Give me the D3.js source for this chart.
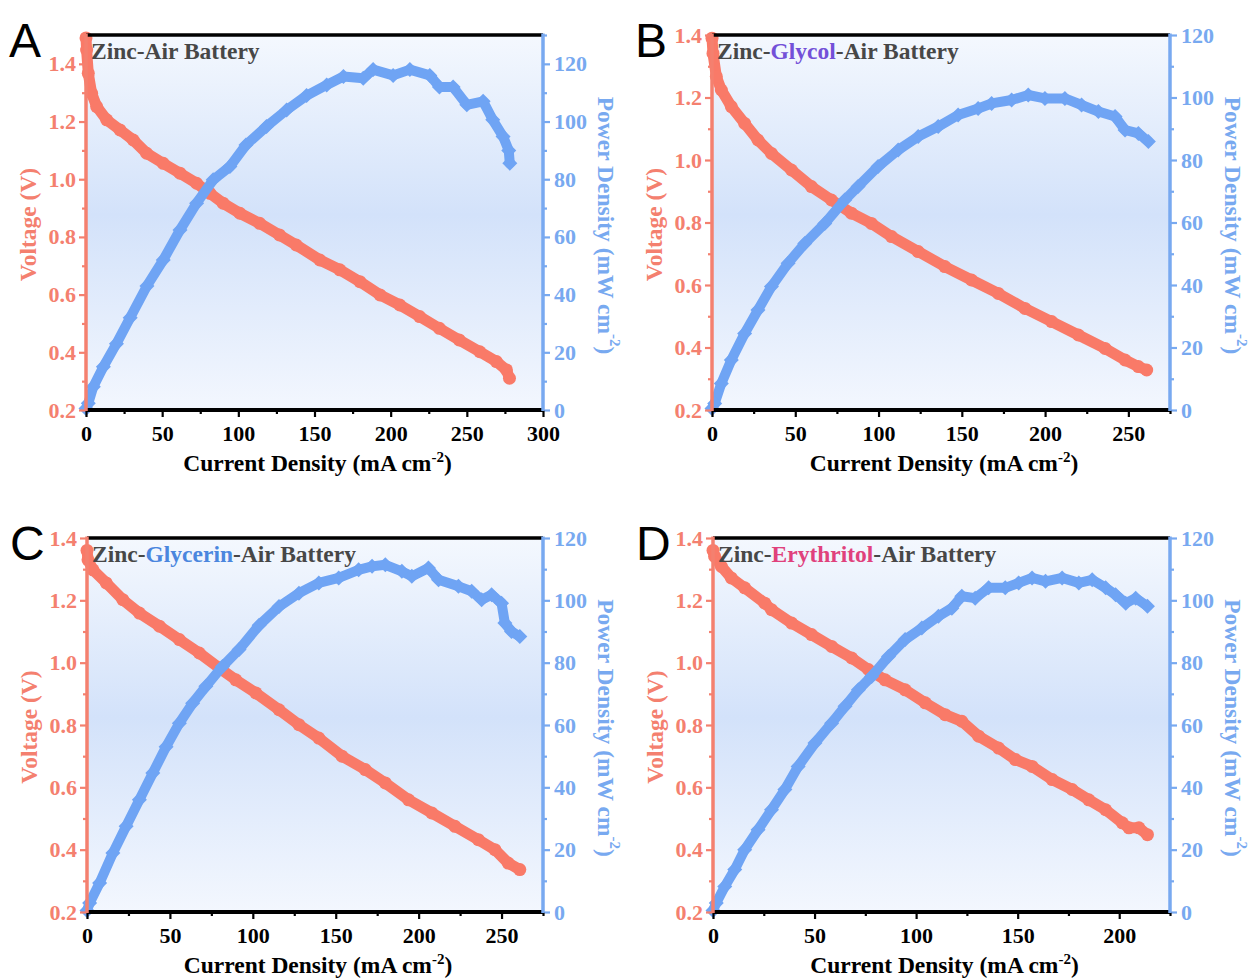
<!DOCTYPE html>
<html>
<head>
<meta charset="utf-8">
<script src="https://cdn.jsdelivr.net/npm/d3@7"></script>
<style>
  body { margin: 0; background: #fff; }
</style>
</head>
<body>
<svg width="1250" height="978"></svg>
<script>
// ---- data ----
// A: Zinc-Air
var aVoltI = [0, 0.4, 1.5, 3.7, 7, 13.6, 22.3, 31, 39.8, 50.7, 61.7, 72.6, 81.4, 90, 101, 114, 127, 138, 153.5, 166.6, 179.8, 193, 206, 219, 232, 245, 258.5, 269.4, 276, 278];
var aVolt  = [1.49, 1.448, 1.367, 1.298, 1.252, 1.206, 1.171, 1.136, 1.09, 1.055, 1.021, 0.986, 0.951, 0.917, 0.882, 0.847, 0.807, 0.772, 0.72, 0.686, 0.645, 0.599, 0.564, 0.524, 0.483, 0.443, 0.402, 0.368, 0.339, 0.31];
var aPowI  = [0, 1.5, 4.8, 11.4, 20, 29, 40, 50.7, 61.7, 72.6, 83.5, 94.5, 105, 118.5, 131.7, 144.8, 158, 169, 182, 188.5, 201.6, 212.6, 225.7, 232, 241, 250, 260.7, 267, 273.8, 277.5, 278.2];
var aPow   = [0.5, 2.3, 8.1, 15, 23, 32, 43, 52, 62.4, 71.7, 79.8, 84.4, 91.9, 98.3, 104, 109, 112.7, 115.6, 115, 118, 116, 118, 116, 112, 112, 105.8, 107, 100.6, 94.8, 90, 85.5];

// B: Zinc-Glycol
var bVoltI = [0, 0.6, 2.6, 5.6, 11.6, 19.6, 27.6, 35.7, 47.7, 59.7, 71.7, 83.7, 95.7, 107.8, 123.8, 139.8, 155.8, 171.9, 187.9, 203.9, 220, 236, 248, 256, 261];
var bVolt  = [1.39, 1.341, 1.267, 1.224, 1.171, 1.117, 1.064, 1.021, 0.968, 0.915, 0.872, 0.83, 0.797, 0.755, 0.707, 0.659, 0.616, 0.573, 0.525, 0.483, 0.44, 0.397, 0.36, 0.339, 0.328];
var bPowI  = [0, 1.6, 5.6, 11.6, 19.6, 27.6, 35.7, 45.7, 55.7, 67.7, 79.7, 87.7, 99.7, 111.8, 123.8, 135.8, 147.8, 159.8, 167.9, 179.9, 189.9, 199.9, 211.9, 221.9, 232, 242, 248, 256, 262];
var bPow   = [0.5, 2.1, 8.5, 16, 24.5, 32, 39.5, 47, 53.3, 59.7, 67.2, 71.5, 77.9, 83.2, 87.5, 90.7, 94.4, 96.5, 98.1, 99.2, 100.8, 99.7, 99.7, 97.6, 95.5, 93.9, 89.6, 88.5, 85.9];

// C: Zinc-Glycerin
var cVoltI = [0, 0.6, 3.6, 11.6, 21.6, 31.6, 43.7, 55.7, 67.7, 79.7, 89.7, 101.8, 115.8, 127.8, 139.8, 153.8, 167.8, 179.9, 193.9, 207.9, 221.9, 236, 246, 254, 261];
var cVolt  = [1.36, 1.33, 1.298, 1.256, 1.202, 1.159, 1.117, 1.074, 1.031, 0.983, 0.945, 0.903, 0.849, 0.801, 0.758, 0.70, 0.657, 0.614, 0.56, 0.518, 0.475, 0.432, 0.40, 0.357, 0.336];
var cPowI  = [0, 1.6, 7.6, 15.6, 23.6, 31.6, 39.7, 47.7, 55.7, 63.7, 71.7, 81.7, 91.7, 103.8, 115.8, 127.8, 139.8, 151.8, 163.8, 171.9, 179.9, 189.9, 195.9, 205.9, 212, 224, 232, 238, 244, 250, 252, 256, 261];
var cPow   = [0.5, 2.9, 9.3, 18.9, 27.5, 36, 44.6, 53, 60.6, 67, 72.4, 78.8, 84.2, 92, 98, 102.3, 105.6, 107.2, 109.8, 110.9, 111.4, 109.3, 107.7, 110.4, 106.6, 104.5, 102.9, 100.2, 101.8, 99.1, 92.7, 90, 88.4];

// D: Zinc-Erythritol
var dVoltI = [0, 0.8, 4.1, 9, 15.6, 25.5, 28.8, 38.7, 48.5, 58.4, 68.3, 76.5, 84.7, 94.6, 104.5, 114.3, 122.5, 130.8, 140.6, 148.9, 157.1, 167, 176.8, 185, 193.3, 201.5, 204.8, 209.7, 213.9];
var dVolt  = [1.36, 1.341, 1.309, 1.272, 1.24, 1.191, 1.17, 1.127, 1.09, 1.052, 1.015, 0.978, 0.945, 0.913, 0.871, 0.833, 0.812, 0.764, 0.726, 0.689, 0.667, 0.625, 0.593, 0.56, 0.528, 0.486, 0.47, 0.47, 0.448];
var dPowI  = [0, 1.6, 5.8, 10.7, 15.6, 22.2, 28.8, 35.4, 41.9, 50.2, 58.4, 65, 71.6, 78.1, 86.4, 94.6, 102.8, 111, 117.6, 122.5, 129.1, 135.7, 143.9, 150.5, 157.1, 163.7, 171.9, 180.1, 186.7, 193.3, 198.2, 203.2, 208.1, 213.9];
var dPow   = [0.5, 2.9, 8.2, 13.6, 20, 26.4, 32.8, 39.3, 46.7, 54.2, 60.6, 66, 71.3, 75.6, 82, 87.4, 91.1, 94.9, 97.5, 101.3, 100.7, 104, 104, 105.6, 107.2, 106.1, 107.2, 105.6, 106.6, 104, 101.8, 99.1, 100.7, 98.1];

// tick values
var vTicks  = [0.2, 0.4, 0.6, 0.8, 1.0, 1.2, 1.4];
var vMinor  = [0.3, 0.5, 0.7, 0.9, 1.1, 1.3];
var vMinorA = [0.3, 0.5, 0.7, 0.9, 1.1, 1.3, 1.5];
var pTicks  = [0, 20, 40, 60, 80, 100, 120];
var pMinor  = [10, 30, 50, 70, 90, 110];
var pMinorA = [10, 30, 50, 70, 90, 110, 130];
var xTicksA = [0, 50, 100, 150, 200, 250, 300];
var xMinorA = [25, 75, 125, 175, 225, 275];
var xTicksB = [0, 50, 100, 150, 200, 250];
var xMinorB = [25, 75, 125, 175, 225, 275];
var xTicksD = [0, 50, 100, 150, 200];
var xMinorD = [25, 75, 125, 175, 225];

var panels = [
  {letter: 'A', fuel: null,         fuelColor: null,      vI: aVoltI, v: aVolt, pI: aPowI, p: aPow, xMax: 300, vMax: 1.5, pMax: 130, xt: xTicksA, xm: xMinorA, vm: vMinorA, pm: pMinorA, left: 86,  top: 35,  w: 457, h: 375},
  {letter: 'B', fuel: 'Glycol',     fuelColor: '#7350d8', vI: bVoltI, v: bVolt, pI: bPowI, p: bPow, xMax: 275, vMax: 1.4, pMax: 120, xt: xTicksB, xm: xMinorB, vm: vMinor,  pm: pMinor,  left: 712, top: 35,  w: 458, h: 375},
  {letter: 'C', fuel: 'Glycerin',   fuelColor: '#4a86de', vI: cVoltI, v: cVolt, pI: cPowI, p: cPow, xMax: 275, vMax: 1.4, pMax: 120, xt: xTicksB, xm: xMinorB, vm: vMinor,  pm: pMinor,  left: 87,  top: 538, w: 456, h: 374},
  {letter: 'D', fuel: 'Erythritol', fuelColor: '#e0417c', vI: dVoltI, v: dVolt, pI: dPowI, p: dPow, xMax: 225, vMax: 1.4, pMax: 120, xt: xTicksD, xm: xMinorD, vm: vMinor,  pm: pMinor,  left: 713, top: 538, w: 457, h: 374}
];

var red = '#f97a68', blue = '#6fa4f4', redAxis = '#f4806f', blueAxis = '#78a9f0';
var serif = "'Liberation Serif','Times New Roman',serif";

var svg = d3.select('svg');

var grad = svg.append('defs').append('linearGradient')
  .attr('id', 'bg').attr('x1', 0).attr('y1', 0).attr('x2', 0).attr('y2', 1);
grad.append('stop').attr('offset', '0%').attr('stop-color', '#f4f8fe');
grad.append('stop').attr('offset', '48%').attr('stop-color', '#d3e2fa');
grad.append('stop').attr('offset', '100%').attr('stop-color', '#f3f7fe');

function styleAxis(sel, color) {
  sel.select('.domain').remove();
  sel.selectAll('line').attr('stroke', color).attr('stroke-width', 2.2);
  sel.selectAll('text')
    .attr('fill', color)
    .style('font-family', serif)
    .style('font-weight', 'bold')
    .style('font-size', '22px');
}

var drawPanel = function (p) {
  var g = svg.append('g');
  var bottom = p.top + p.h, right = p.left + p.w;
  var x  = d3.scaleLinear().domain([0, p.xMax]).range([p.left, right]);
  var yV = d3.scaleLinear().domain([0.2, p.vMax]).range([bottom, p.top]);
  var yP = d3.scaleLinear().domain([0, p.pMax]).range([bottom, p.top]);

  g.append('rect').attr('x', p.left).attr('y', p.top).attr('width', p.w).attr('height', p.h)
    .attr('fill', 'url(#bg)');

  // voltage: thick band + circles
  var vData = d3.zip(p.vI, p.v);
  g.append('path').datum(vData)
    .attr('d', d3.line().x(function (d) { return x(d[0]); }).y(function (d) { return yV(d[1]); }))
    .attr('fill', 'none').attr('stroke', red).attr('stroke-width', 11)
    .attr('stroke-linejoin', 'round').attr('stroke-linecap', 'round');
  g.selectAll('.vpt').data(vData).enter().append('circle')
    .attr('cx', function (d) { return x(d[0]); })
    .attr('cy', function (d) { return yV(d[1]); })
    .attr('r', 6.5).attr('fill', red);

  // power: thick band + diamonds
  var pData = d3.zip(p.pI, p.p);
  g.append('path').datum(pData)
    .attr('d', d3.line().x(function (d) { return x(d[0]); }).y(function (d) { return yP(d[1]); }))
    .attr('fill', 'none').attr('stroke', blue).attr('stroke-width', 10)
    .attr('stroke-linejoin', 'round').attr('stroke-linecap', 'round');
  g.selectAll('.ppt').data(pData).enter().append('path')
    .attr('d', 'M0,-7.5L7.5,0L0,7.5L-7.5,0Z')
    .attr('transform', function (d) { return 'translate(' + x(d[0]) + ',' + yP(d[1]) + ')'; })
    .attr('fill', blue);

  // axes ticks
  g.append('g').attr('transform', 'translate(' + p.left + ',0)')
    .call(d3.axisLeft(yV).tickValues(vTicks).tickSize(7).tickPadding(3).tickFormat(d3.format('.1f')))
    .call(styleAxis, redAxis);
  g.append('g').attr('transform', 'translate(' + p.left + ',0)')
    .call(d3.axisLeft(yV).tickValues(p.vm).tickSize(4).tickFormat(''))
    .call(styleAxis, redAxis);
  g.append('g').attr('transform', 'translate(' + right + ',0)')
    .call(d3.axisRight(yP).tickValues(pTicks).tickSize(7).tickPadding(4))
    .call(styleAxis, blueAxis);
  g.append('g').attr('transform', 'translate(' + right + ',0)')
    .call(d3.axisRight(yP).tickValues(p.pm).tickSize(4).tickFormat(''))
    .call(styleAxis, blueAxis);
  g.append('g').attr('transform', 'translate(0,' + bottom + ')')
    .call(d3.axisBottom(x).tickValues(p.xt).tickSize(7).tickPadding(8))
    .call(styleAxis, '#000');
  g.append('g').attr('transform', 'translate(0,' + bottom + ')')
    .call(d3.axisBottom(x).tickValues(p.xm).tickSize(4).tickFormat(''))
    .call(styleAxis, '#000');

  // frame lines
  g.append('line').attr('x1', p.left).attr('x2', right).attr('y1', p.top).attr('y2', p.top)
    .attr('stroke', '#000').attr('stroke-width', 3.5);
  g.append('line').attr('x1', p.left).attr('x2', right).attr('y1', bottom).attr('y2', bottom)
    .attr('stroke', '#000').attr('stroke-width', 4);
  g.append('line').attr('x1', p.left).attr('x2', p.left).attr('y1', p.top - 1.5).attr('y2', bottom + 1)
    .attr('stroke', redAxis).attr('stroke-width', 3.5);
  g.append('line').attr('x1', right).attr('x2', right).attr('y1', p.top - 1.5).attr('y2', bottom + 1)
    .attr('stroke', blueAxis).attr('stroke-width', 3.5);

  // inside title
  var t = g.append('text').attr('x', p.left + 5).attr('y', p.top + 24)
    .style('font-family', serif).style('font-weight', 'bold').style('font-size', '23.5px')
    .attr('fill', '#474747');
  if (p.fuel) {
    t.append('tspan').text('Zinc-');
    t.append('tspan').attr('fill', p.fuelColor).text(p.fuel);
    t.append('tspan').text('-Air Battery');
  } else {
    t.text('Zinc-Air Battery');
  }

  // axis titles
  var xt = g.append('text').attr('x', (p.left + right) / 2 + 3).attr('y', bottom + 61)
    .attr('text-anchor', 'middle')
    .style('font-family', serif).style('font-weight', 'bold').style('font-size', '23.5px')
    .attr('fill', '#000');
  xt.append('tspan').text('Current Density (mA cm');
  xt.append('tspan').attr('dy', -9).style('font-size', '15px').text('-2');
  xt.append('tspan').attr('dy', 9).text(')');

  g.append('text')
    .attr('transform', 'translate(' + (p.left - 58) + ',' + (p.top + p.h / 2 + 2) + ') rotate(-90)')
    .attr('text-anchor', 'middle').attr('dominant-baseline', 'central')
    .style('font-family', serif).style('font-weight', 'bold').style('font-size', '23.5px')
    .attr('fill', redAxis).text('Voltage (V)');

  var yt = g.append('text')
    .attr('transform', 'translate(' + (right + 63) + ',' + (p.top + p.h / 2 + 3) + ') rotate(90)')
    .attr('text-anchor', 'middle').attr('dominant-baseline', 'central')
    .style('font-family', serif).style('font-weight', 'bold').style('font-size', '23.5px')
    .attr('fill', blueAxis);
  yt.append('tspan').text('Power Density (mW cm');
  yt.append('tspan').attr('dy', -9).style('font-size', '15px').text('-2');
  yt.append('tspan').attr('dy', 9).text(')');

  // panel letter
  g.append('text').attr('x', p.left - 77).attr('y', p.top + 22)
    .style('font-family', "'Liberation Sans', Arial, sans-serif").style('font-size', '48px')
    .attr('fill', '#000').text(p.letter);
};

panels.forEach(drawPanel);
</script>
</body>
</html>
